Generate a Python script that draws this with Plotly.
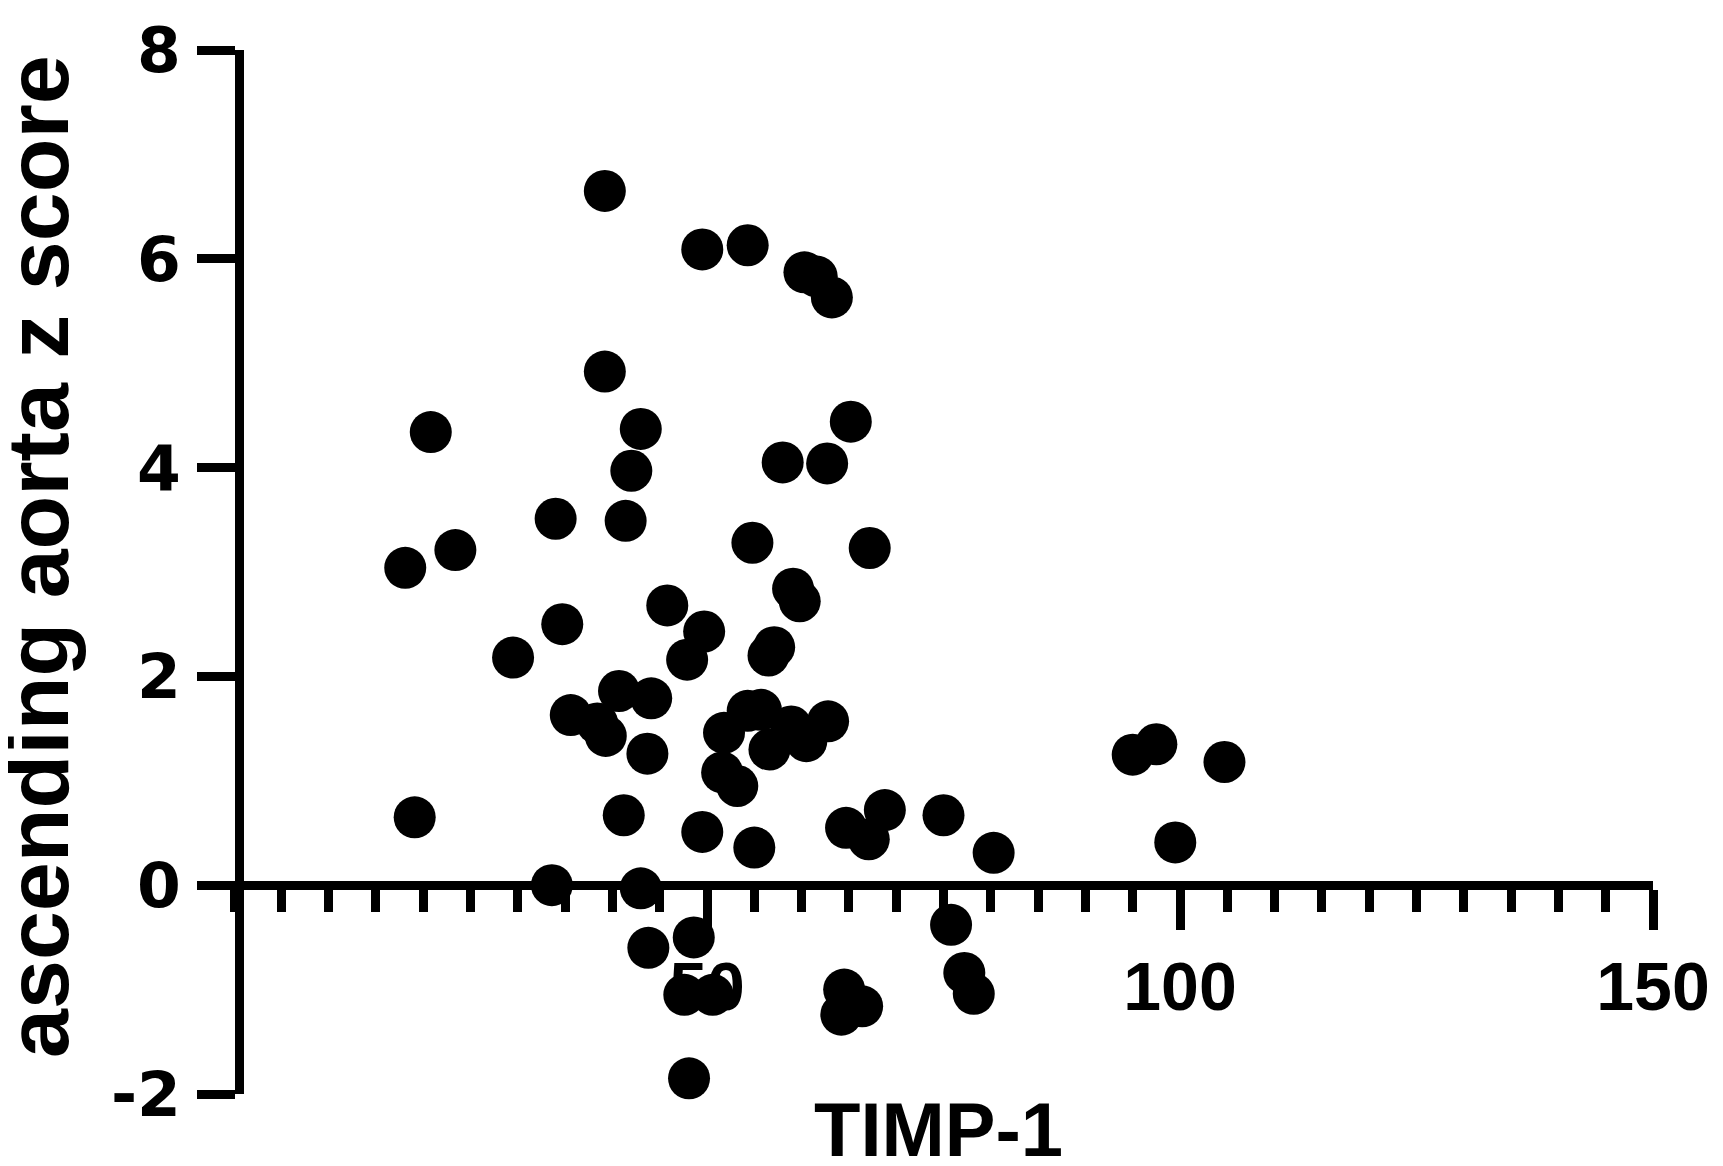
import plotly.graph_objects as go

# TIMP-1 values (x) and ascending aorta z score (y)
timp1 = [39.2, 49.5, 54.3, 60.3, 61.6, 63.2, 39.2, 20.8, 43.0, 42.0,
         65.2, 58.0, 62.7, 34.0, 41.4, 54.8, 67.2, 23.4, 18.1, 59.1,
         59.8, 45.8, 49.7, 34.7, 29.5, 47.9, 56.5, 57.1, 35.6, 38.4,
         39.3, 40.7, 44.1, 43.7, 51.8, 54.3, 55.7, 56.6, 58.9, 60.5,
         62.8, 51.6, 53.2, 19.1, 41.2, 49.5, 55.0, 64.7, 67.1, 68.8,
         75.0, 80.3, 95.0, 97.5, 104.7, 99.5, 33.6, 43.0, 43.8, 48.6,
         47.6, 50.6, 48.1, 75.8, 77.2, 78.2, 64.5, 66.4, 64.2]
zscore = [6.65, 6.09, 6.13, 5.87, 5.83, 5.63, 4.92, 4.34, 4.37, 3.97,
          4.44, 4.05, 4.04, 3.51, 3.49, 3.28, 3.23, 3.21, 3.04, 2.84,
          2.72, 2.68, 2.43, 2.50, 2.18, 2.16, 2.20, 2.28, 1.63, 1.55,
          1.43, 1.86, 1.79, 1.26, 1.46, 1.67, 1.68, 1.30, 1.52, 1.38,
          1.57, 1.08, 0.95, 0.65, 0.67, 0.51, 0.36, 0.55, 0.44, 0.72,
          0.67, 0.31, 1.25, 1.35, 1.18, 0.41, 0.00, -0.03, -0.60, -0.50,
          -1.05, -1.05, -1.85, -0.38, -0.84, -1.04, -1.00, -1.16, -1.24]

x_tickvals = [50, 100, 150]
y_tickvals = [-2, 0, 2, 4, 6, 8]
x_title = "TIMP-1"
y_title = "ascending aorta z score"

W, H = 1723, 1166
L, R, T, B = 226, 78, 42, 80
PW, PH = W - L - R, H - T - B

SANS = "Liberation Sans, Arial"
HEAVY = "DejaVu Sans, Verdana, sans-serif"

fig = go.Figure(go.Scatter(
    x=timp1, y=zscore, mode="markers",
    marker=dict(size=42, color="black", line=dict(width=0)),
    cliponaxis=False, hoverinfo="skip"))

fig.update_layout(
    width=W, height=H,
    margin=dict(l=L, r=R, t=T, b=B, autoexpand=False),
    paper_bgcolor="white", plot_bgcolor="white", showlegend=False)

fig.update_xaxes(
    range=[0, 150], anchor="free", position=0.2,
    showgrid=False, zeroline=False,
    showline=True, linecolor="black", linewidth=9,
    ticks="outside", ticklen=40, tickwidth=9, tickcolor="black",
    tickmode="array", tickvals=x_tickvals,
    ticktext=[str(v) for v in x_tickvals],
    tickfont=dict(family=SANS, size=68, color="black", weight="bold"),
    ticklabelstandoff=-2,
    minor=dict(tickmode="linear", tick0=0, dtick=5, ticks="outside",
               ticklen=22, tickwidth=9, tickcolor="black", showgrid=False),
    layer="below traces")

fig.update_yaxes(
    range=[-2, 8], anchor="free", position=4.5 / PW,
    showgrid=False, zeroline=False,
    showline=True, linecolor="black", linewidth=9,
    ticks="outside", ticklen=38, tickwidth=9, tickcolor="black",
    tickmode="array", tickvals=y_tickvals,
    ticktext=[str(v) for v in y_tickvals],
    tickfont=dict(family=HEAVY, size=63, color="black", weight="bold"),
    ticklabelstandoff=3,
    layer="below traces")

fig.add_annotation(
    text=y_title, xref="paper", yref="paper",
    x=(29 - L) / PW, y=(H - B - 549) / PH,
    xanchor="center", yanchor="middle", textangle=-90, showarrow=False,
    font=dict(family=SANS, size=88, color="black", weight="bold"))

fig.add_annotation(
    text=x_title, xref="paper", yref="paper",
    x=(930 - L) / PW, y=(H - B - 1121) / PH,
    xanchor="center", yanchor="middle", showarrow=False,
    font=dict(family=SANS, size=76, color="black", weight="bold"))

fig.write_html("out.html", config={"displayModeBar": False})
